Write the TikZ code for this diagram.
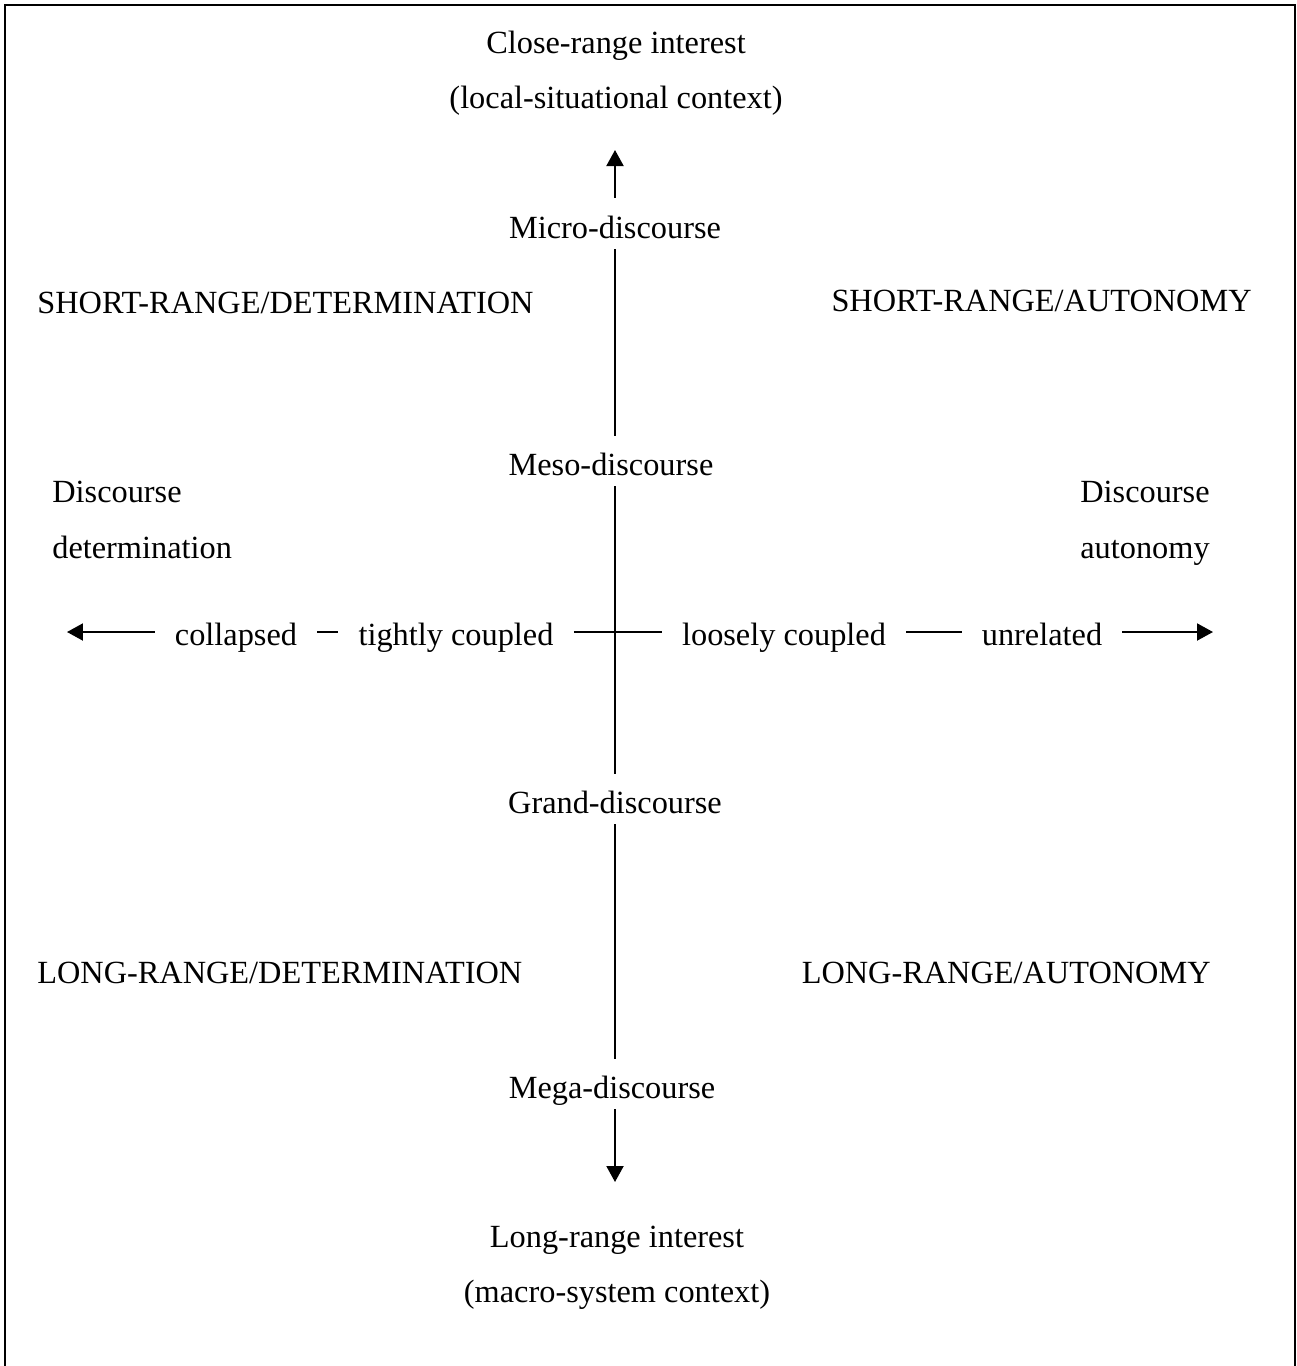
\documentclass[tikz,border=0pt]{standalone}
\usepackage{fontspec}
\setmainfont{Liberation Serif}
\usetikzlibrary{arrows.meta}
\tikzset{
  lbl/.style={font=\fontsize{18.4}{22}\selectfont, inner sep=0pt, text height=0.44cm, text depth=0.16cm, anchor=base},
  rowlbl/.style={font=\fontsize{18.4}{22}\selectfont, inner xsep=0.4cm, inner ysep=0pt, text height=0.52cm, text depth=0pt, anchor=base},
  conn/.style={line width=1.15pt},
  vconn/.style={conn, shorten <=0.06cm, shorten >=0.34cm},
  arr/.style={conn, -{Triangle[length=0.32cm,width=0.34cm]}},
  frame/.style={line width=1.15pt}
}
\begin{document}
\begin{tikzpicture}[x=0.02cm,y=-0.02cm]
\useasboundingbox (0,0) rectangle (1296,1366);
\draw[frame] (5,1366) -- (5,5) -- (1295,5) -- (1295,1366);

% top / bottom titles
\node[lbl] (close) at (616,53) {Close-range interest};
\node[lbl] (local) at (616,108) {(local-situational context)};
\node[lbl] (long) at (617,1247) {Long-range interest};
\node[lbl] (macro) at (617,1302) {(macro-system context)};

% vertical axis labels
\node[lbl] (micro) at (615,238) {Micro-discourse};
\node[lbl] (meso) at (611,475) {Meso-discourse};
\node[lbl] (grand) at (615,813) {Grand-discourse};
\node[lbl] (mega) at (612,1098) {Mega-discourse};
\coordinate (toptip) at (615,150);
\coordinate (bottip) at (615,1182);

\draw[arr, shorten <=0.36cm] (micro.north -| toptip) -- (toptip);
\draw[vconn] (micro.south -| toptip) -- (meso.north -| toptip);
\draw[vconn] (meso.south -| toptip) -- (grand.north -| toptip);
\draw[vconn] (grand.south -| toptip) -- (mega.north -| toptip);
\draw[arr, shorten <=0.06cm] (mega.south -| bottip) -- (bottip);

% quadrant labels
\node[lbl, anchor=base west] (srd) at (37,313) {SHORT-RANGE/DETERMINATION};
\node[lbl, anchor=base east] (sra) at (1252,311) {SHORT-RANGE/AUTONOMY};
\node[lbl, anchor=base west] (lrd) at (37,983) {LONG-RANGE/DETERMINATION};
\node[lbl, anchor=base east] (lra) at (1211,983) {LONG-RANGE/AUTONOMY};

% side labels
\node[lbl, anchor=base west] (dd1) at (52,502) {Discourse};
\node[lbl, anchor=base west] (dd2) at (52,558) {determination};
\node[lbl, anchor=base east] (da1) at (1210,502) {Discourse};
\node[lbl, anchor=base east] (da2) at (1210,558) {autonomy};

% horizontal row
\node[rowlbl] (coll) at (236,645) {collapsed};
\node[rowlbl] (tight) at (456,645) {tightly coupled};
\node[rowlbl] (loose) at (784,645) {loosely coupled};
\node[rowlbl] (unrel) at (1042,645) {unrelated};
\coordinate (lefttip) at (67,632);
\coordinate (righttip) at (1213,632);

\draw[arr] (coll.west) -- (coll.west -| lefttip);
\draw[conn] (coll.east) -- (tight.west);
\draw[conn] (tight.east) -- (loose.west);
\draw[conn] (loose.east) -- (unrel.west);
\draw[arr] (unrel.east) -- (unrel.east -| righttip);
\end{tikzpicture}
\end{document}
